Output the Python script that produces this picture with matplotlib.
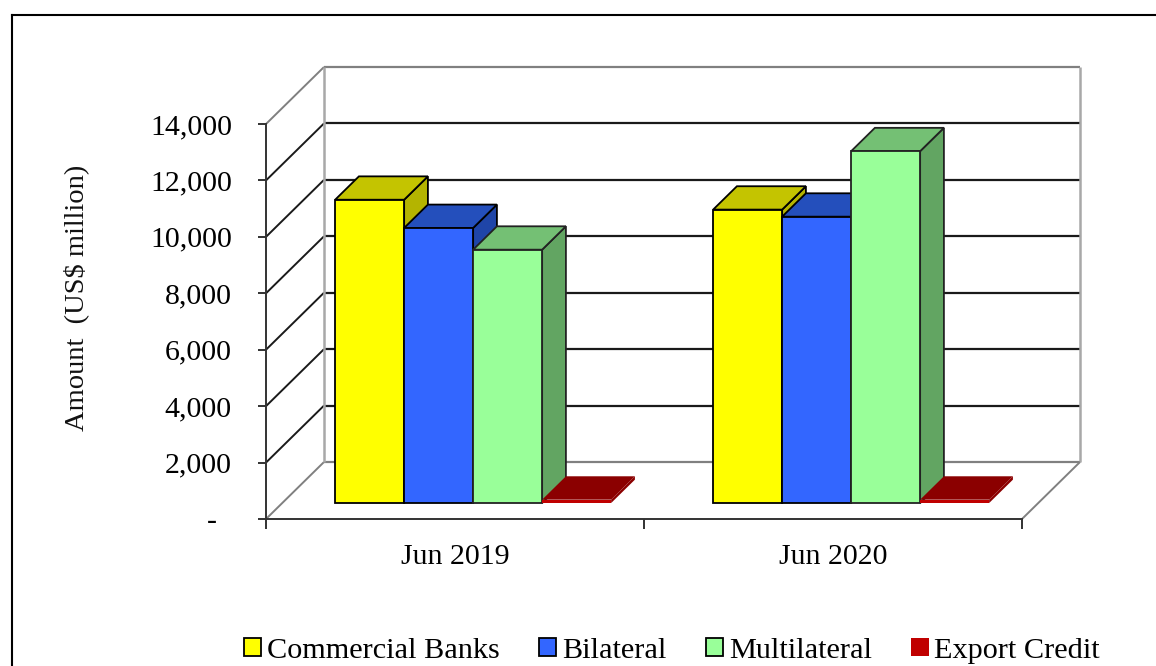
import matplotlib
matplotlib.use("Agg")
import matplotlib.pyplot as plt
from matplotlib.lines import Line2D
from matplotlib.patches import Patch

plt.rcParams["font.family"] = ["Liberation Serif", "DejaVu Serif"]

categories = ["Jun 2019", "Jun 2020"]
commercial = [10750, 10400]
bilateral = [9750, 10150]
multilateral = [8980, 12470]
export_credit = [120, 120]

series_names = ["Commercial Banks", "Bilateral", "Multilateral", "Export Credit"]
series_values = [commercial, bilateral, multilateral, export_credit]
front_colors = ["#FFFF00", "#3366FF", "#99FF99", "#C00000"]
top_colors = ["#C4C400", "#244FBC", "#74C074", "#8B0000"]
side_colors = ["#B4B400", "#1F45A8", "#62A562", "#8B0000"]
edge_colors = ["black", "black", "#222222", "none"]

y_ticks = [0, 2000, 4000, 6000, 8000, 10000, 12000, 14000]
y_tick_labels = ["-  ", "2,000", "4,000", "6,000", "8,000", "10,000", "12,000", "14,000"]

W, H = 1156, 666
fig = plt.figure(figsize=(W / 100, H / 100), dpi=100)
ax = fig.add_axes([266 / W, 1 - 519 / H, (1022 - 266) / W, (519 - 124) / H])
ax.set_xlim(0, 2)
ax.set_ylim(0, 14000)
ax.patch.set_visible(False)

# oblique depth of the fake 3d box, in data units
depth_x = 58 / 378
depth_y = 57 / (395 / 14000)
bar_w = 69 / 378
bar_d1 = 0.28
bar_d2 = 0.69


def proj(x, y, d):
    return x + d * depth_x, y + d * depth_y


def wall_line(p0, p1, color, lw=1.4, z=1, ls="-"):
    ax.plot([p0[0], p1[0]], [p0[1], p1[1]], color=color, lw=lw, ls=ls,
            zorder=z, clip_on=False, solid_capstyle="butt")


# walls and floor
for t in y_ticks:
    dark = t not in (0, 14000)
    col = "#1a1a1a" if dark else "#808080"
    wall_line(proj(0, t, 0), proj(0, t, 1), col)
    wall_line(proj(0, t, 1), proj(2, t, 1), col, lw=1.6)
wall_line(proj(0, 0, 1), proj(0, 14000, 1), "#a8a8a8", lw=1.8)
wall_line(proj(2, 0, 1), proj(2, 14000, 1), "#a8a8a8", lw=1.8)
wall_line(proj(2, 0, 0), proj(2, 0, 1), "#808080")

# bars, left to right so that each one hides the side of the previous
base = bar_d1 * depth_y
z = 3
for i in range(len(categories)):
    for j in range(len(series_names)):
        h = series_values[j][i]
        x0 = i + 0.505 + (j - 2) * bar_w
        x1 = x0 + bar_w
        ec = edge_colors[j]
        lw = 1.3 if ec != "none" else 0
        top = [proj(x0, h, bar_d1), proj(x1, h, bar_d1), proj(x1, h, bar_d2), proj(x0, h, bar_d2)]
        side = [proj(x1, 0, bar_d1), proj(x1, h, bar_d1), proj(x1, h, bar_d2), proj(x1, 0, bar_d2)]
        ax.fill(*zip(*side), facecolor=side_colors[j], edgecolor=ec, lw=lw, zorder=z, clip_on=False)
        ax.fill(*zip(*top), facecolor=top_colors[j], edgecolor=ec, lw=lw, zorder=z, clip_on=False)
        ax.bar(x0 + bar_d1 * depth_x, h, width=bar_w, bottom=base, align="edge",
               facecolor=front_colors[j], edgecolor=ec, lw=lw, zorder=z, clip_on=False)
        z += 1

for s in ["top", "right"]:
    ax.spines[s].set_visible(False)
for s in ["left", "bottom"]:
    ax.spines[s].set_linewidth(1.4)
    ax.spines[s].set_color("#333333")
    ax.spines[s].set_zorder(2)

ax.set_yticks(y_ticks)
ax.set_yticklabels(y_tick_labels, fontsize=21.5)
ax.tick_params(axis="y", length=6, width=1.3, pad=18.5, color="#222222")
ax.set_xticks([0, 1, 2])
ax.set_xticklabels([])
ax.set_xticks([0.5, 1.5], minor=True)
ax.set_xticklabels(categories, minor=True, fontsize=21.5)
ax.tick_params(axis="x", which="major", length=7, width=1.3, color="#222222")
ax.tick_params(axis="x", which="minor", length=0, pad=18)

fig.text(76 / W, 1 - 298 / H, "Amount  (US$ million)", rotation=90, fontsize=20.5,
         ha="center", va="center", color="#111111")

handles = [Patch(facecolor=c, edgecolor="black" if n != "Export Credit" else "none", lw=1.3)
           for c, n in zip(front_colors, series_names)]
fig.legend(handles, series_names, ncol=4, frameon=False, fontsize=21.8,
           loc="lower left", bbox_to_anchor=(244 / W, 0.003), borderaxespad=0, borderpad=0,
           handlelength=0.57, handleheight=0.52, handletextpad=0.19, columnspacing=1.3)

# outer frame runs off the right and bottom of the picture
fig.add_artist(Line2D([12 / W, 12 / W], [0, 1 - 15 / H], color="black", lw=1.5, transform=fig.transFigure))
fig.add_artist(Line2D([12 / W, 1], [1 - 15 / H, 1 - 15 / H], color="black", lw=1.5, transform=fig.transFigure))

fig.savefig("out.png", dpi=100)
